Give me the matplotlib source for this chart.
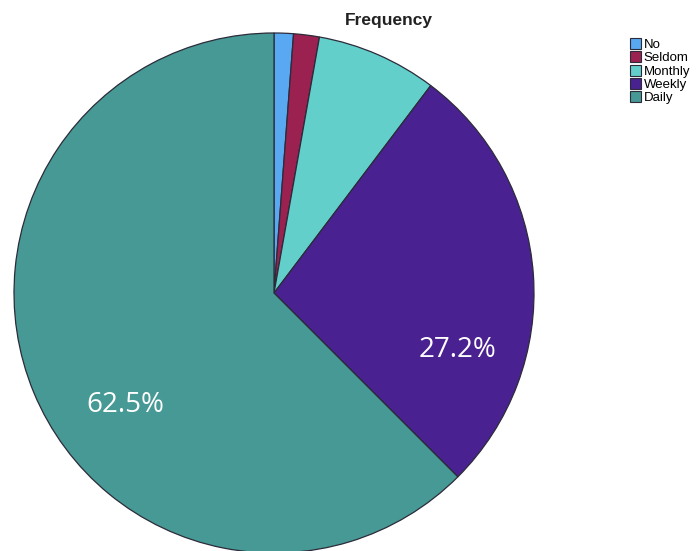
import matplotlib.pyplot as plt
from matplotlib.patches import Patch

# data (percent of respondents)
categories = ['No', 'Seldom', 'Monthly', 'Weekly', 'Daily']
shares = [1.2, 1.6, 7.5, 27.2, 62.5]
colors = ['#58a8f2', '#9b2150', '#62cfcb', '#4a2190', '#469994']
shown_labels = {'Weekly': '27.2%', 'Daily': '62.5%'}

fig = plt.figure(figsize=(6.99, 5.51), dpi=100)
ax = fig.add_axes([0, 0, 1, 1])

wedges, _ = ax.pie(shares, colors=colors, startangle=90, counterclock=False,
                   center=(274, 258), radius=260, frame=True,
                   wedgeprops=dict(edgecolor='#2b2b3a', linewidth=0.9))
ax.set_xlim(0, 699)
ax.set_ylim(0, 551)
ax.set_aspect('equal')
ax.axis('off')

# percentage labels (placed like in the original, not at the wedge middle)
label_pos = {'Weekly': (458, 201), 'Daily': (125, 146)}
for cat in categories:
    if cat in shown_labels:
        x, y = label_pos[cat]
        ax.text(x, y, shown_labels[cat], color='white', fontsize=20,
                family='Open Sans', ha='center', va='center')

fig.text(389 / 699, 1 - 20 / 551, 'Frequency', fontsize=12.5, fontweight='bold',
         family='Liberation Sans', ha='center', va='center', color='#222222')

handles = [Patch(facecolor=c, edgecolor='#2b2b3a', linewidth=0.8) for c in colors]
fig.legend(handles, categories, loc='upper left', bbox_to_anchor=(630 / 699, 1 - 38 / 551),
           frameon=False, handlelength=0.85, handleheight=0.9,
           handletextpad=0.2, labelspacing=0.02, borderpad=0, borderaxespad=0,
           prop={'family': 'Liberation Sans', 'size': 9.5})

fig.savefig('out.png', dpi=100)
